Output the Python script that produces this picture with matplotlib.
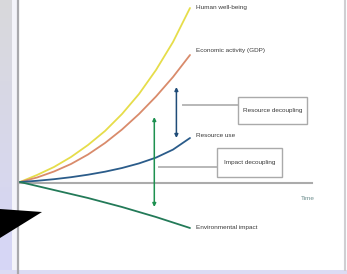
import numpy as np
import matplotlib.pyplot as plt
from matplotlib.patches import Polygon, Rectangle

plt.rcParams['font.family'] = ['Liberation Sans', 'DejaVu Sans']

# time steps (arbitrary units) and the four trajectories (index, baseline = 0)
time = [0, 1, 2, 3, 4, 5, 6, 7, 8, 9, 10]
well_being = [0, 0.7, 1.5, 2.5, 3.7, 5.1, 6.8, 8.8, 11.2, 14.0, 17.4]
gdp = [0, 0.45, 1.05, 1.8, 2.75, 3.9, 5.25, 6.8, 8.55, 10.5, 12.7]
resource_use = [0, 0.12, 0.28, 0.48, 0.73, 1.03, 1.4, 1.86, 2.44, 3.24, 4.4]
env_impact = [0, -0.4, -0.8, -1.2, -1.6, -2.05, -2.5, -3.0, -3.5, -4.05, -4.6]

series = [well_being, gdp, resource_use, env_impact]
names = ['Human well-being', 'Economic activity (GDP)', 'Resource use', 'Environmental impact']
colors = ['#e6dd4a', '#d98b6b', '#2b5c8a', '#237a58']
label_dy = [0.0, 0.4, 0.2, 0.0]

# decoupling arrows: (time, top, bottom)
resource_gap = (9.2, 9.5, 4.4)
impact_gap = (7.9, 6.5, -2.5)

# callouts: text, box (x0, x1, y0, y1), leader (x0, x1, y)
callouts = [
    ('Resource decoupling', (12.8, 16.9, 5.8, 8.5), (9.6, 12.8, 7.7)),
    ('Impact decoupling', (11.6, 15.4, 0.5, 3.4), (8.2, 11.6, 1.5)),
]

fig = plt.figure(figsize=(3.47, 2.74), dpi=100)
fig.patch.set_facecolor('white')

# background decoration in pixel units
bg = fig.add_axes([0, 0, 1, 1])
bg.axis('off')
grad = np.linspace(0, 1, 100)[:, None]
top_c = np.array([0.85, 0.85, 0.86])
bot_c = np.array([0.84, 0.84, 0.97])
img = top_c[None, None, :] * (1 - grad[:, :, None]) + bot_c[None, None, :] * grad[:, :, None]
bg.imshow(img, extent=(0, 12, 274, 0), aspect='auto')
bg.add_patch(Rectangle((12, 0), 5, 274, fc='#f4f4fa', ec='none'))
bg.plot([18, 18], [0, 274], color='#a9a9ad', lw=1.6)
bg.add_patch(Rectangle((0, 270), 347, 4, fc='#dcdcf4', ec='none'))
bg.plot([345, 345], [0, 270], color='#cfcfd2', lw=1.5)
bg.set_xlim(0, 347)
bg.set_ylim(274, 0)

ax = fig.add_axes([0, 0, 1, 1])
ax.patch.set_alpha(0)
ax.set_xlim(-20 / 17, 327 / 17)
ax.set_ylim(-9.2, 18.2)
ax.axis('off')

ax.plot([0, 17.2], [-0.1, -0.1], color='#ababab', lw=1.5, zorder=1)

for vals, name, c, dy in zip(series, names, colors, label_dy):
    ax.plot(time, vals, color=c, lw=1.3, solid_capstyle='round', zorder=3)
    ax.text(time[-1] + 0.35, vals[-1] + dy, name, fontsize=4.6, color='#3a3a3a',
            va='center', ha='left')

for (t, top, bottom), c in [(resource_gap, '#1f4c78'), (impact_gap, '#1e9150')]:
    ax.annotate('', xy=(t, bottom), xytext=(t, top),
                arrowprops=dict(arrowstyle='<|-|>', color=c, lw=1.1,
                                mutation_scale=5, shrinkA=0, shrinkB=0), zorder=4)

for text, (x0, x1, y0, y1), (lx0, lx1, ly) in callouts:
    ax.plot([lx0, lx1], [ly, ly], color='#b8b8b8', lw=1.4, zorder=2)
    ax.add_patch(Rectangle((x0, y0), x1 - x0, y1 - y0, fc='white', ec='#aaaaaa',
                           lw=1.0, zorder=2))
    ax.text((x0 + x1) / 2, (y0 + y1) / 2, text, fontsize=4.6, color='#3a3a3a',
            ha='center', va='center', zorder=3)

ax.text(16.5, -1.6, 'Time', fontsize=4.6, color='#6b8c8c', ha='left', va='center')

# black pointer in the lower left corner
bg.add_patch(Polygon([[0, 209], [42, 212], [0, 238]], closed=True, fc='black', ec='none', zorder=10))

fig.savefig('out.png', dpi=100)
